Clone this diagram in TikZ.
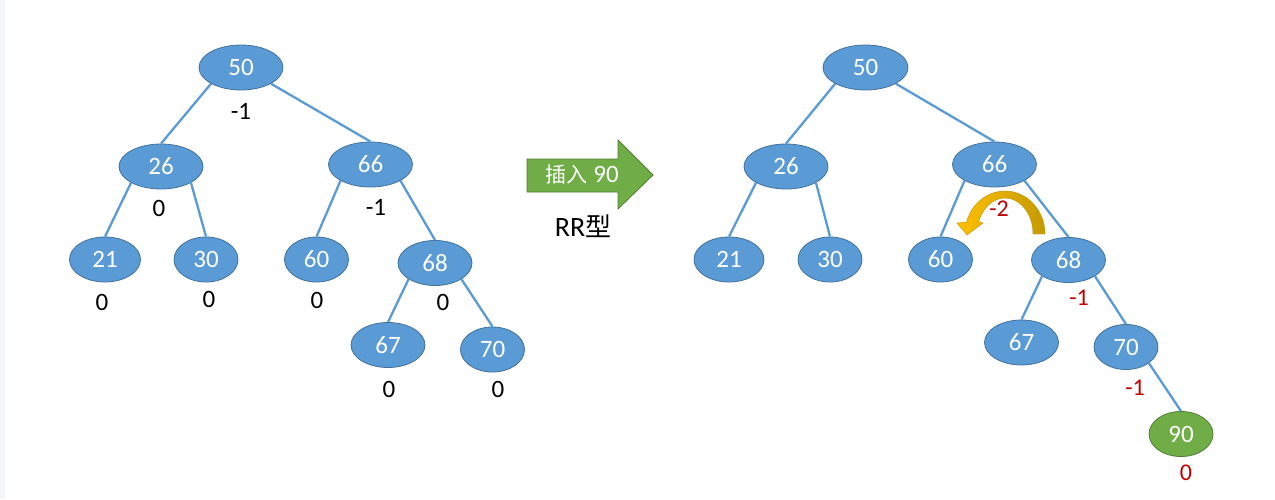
\documentclass[tikz,border=0pt]{standalone}
\usepackage{fontspec}
\setmainfont{Carlito}
\newfontfamily\cjk{Noto Sans CJK SC}
\usetikzlibrary{shapes.geometric}
\definecolor{nblue}{HTML}{5B9BD5}
\definecolor{nborder}{HTML}{41719C}
\definecolor{ngreen}{HTML}{70AD47}
\definecolor{gborder}{HTML}{507E32}
\definecolor{bred}{HTML}{C00000}
\definecolor{ayel}{HTML}{FFC000}
\definecolor{adark}{HTML}{C49A00}
\definecolor{aline}{HTML}{BF9000}
\definecolor{strip}{HTML}{F3F5F9}
\tikzset{
  nd/.style={ellipse, fill=nblue, draw=nborder, line width=0.8pt, text=white,
    font=\fontsize{25}{25}\selectfont, inner sep=0pt, minimum height=45pt},
  wA/.style={minimum width=84pt},
  wB/.style={minimum width=74pt},
  wC/.style={minimum width=64pt},
  gn/.style={nd, fill=ngreen, draw=gborder},
  bal/.style={font=\fontsize{25}{25}\selectfont, text=black, inner sep=0pt},
  rbal/.style={font=\fontsize{24}{24}\selectfont, text=bred, inner sep=0pt},
  edge/.style={draw=nblue, line width=2.3pt},
}
\begin{document}
\begin{tikzpicture}[x=1pt, y=-1pt]
\useasboundingbox (0,0) rectangle (1275,499);
\fill[white] (0,0) rectangle (1275,499);
\fill[strip] (0,0) rectangle (5,499);

% ---------- left tree ----------
\node[nd,wA] (L50) at (241,67.5) {50};
\node[nd,wA] (L26) at (161,166.5) {26};
\node[nd,wA] (L66) at (370.5,164.5) {66};
\node[nd,minimum width=71pt] (L21) at (105,259.5) {21};
\node[nd,wC] (L30) at (206,259.5) {30};
\node[nd,wC] (L60) at (316.5,259.5) {60};
\node[nd,wB] (L68) at (435,263) {68};
\node[nd,wB] (L67) at (388,345) {67};
\node[nd,wC] (L70) at (492.5,349.5) {70};

\draw[edge] (L50.south west) -- (L26.north);
\draw[edge] (L50.south east) -- (L66.north);
\draw[edge] (L26.south west) -- (L21.north);
\draw[edge] (L26.south east) -- (L30.north);
\draw[edge] (L66.south west) -- (L60.north);
\draw[edge] (L66.south east) -- (L68.north);
\draw[edge] (L68.south west) -- (L67.north);
\draw[edge] (L68.south east) -- (L70.north);

\node[bal] (bL50) at (241,111) {-1};
\node[bal] (bL26) at (159,208) {0};
\node[bal] (bL66) at (376,207) {-1};
\node[bal] (bL21) at (102,302) {0};
\node[bal] (bL30) at (209,299) {0};
\node[bal] (bL60) at (317,300) {0};
\node[bal] (bL68) at (443,302) {0};
\node[bal] (bL67) at (389,389) {0};
\node[bal] (bL70) at (498,389) {0};

% ---------- middle arrow ----------
\draw[fill=ngreen, draw=gborder, line width=0.8pt]
  (527,159) -- (618,159) -- (618,140) -- (653,175) -- (618,209) -- (618,192) -- (527,192) -- cycle;
\node[text=white, inner sep=0pt] (ins) at (582,175)
  {{\cjk\fontsize{21}{21}\selectfont 插入}\hspace{6pt}{\fontsize{25}{25}\selectfont 90}};
\node[inner sep=0pt] (rr) at (583,226)
  {{\fontsize{28}{28}\selectfont RR}{\cjk\fontsize{26}{26}\selectfont 型}};

% ---------- right tree ----------
\node[nd,minimum width=85pt] (R50) at (865.5,67.5) {50};
\node[nd,wA] (R26) at (786,166.5) {26};
\node[nd,wA] (R66) at (994.5,164.5) {66};
\node[nd,minimum width=70pt] (R21) at (729,259.5) {21};
\node[nd,wC] (R30) at (830,259.5) {30};
\node[nd,wC] (R60) at (940.5,259.5) {60};
\node[nd,wB] (R68) at (1068.5,260) {68};
\node[nd,wB] (R67) at (1021.5,342.5) {67};
\node[nd,wC] (R70) at (1126,347) {70};
\node[gn,wC] (R90) at (1181,434) {90};

\draw[edge] (R50.south west) -- (R26.north);
\draw[edge] (R50.south east) -- (R66.north);
\draw[edge] (R26.south west) -- (R21.north);
\draw[edge] (R26.south east) -- (R30.north);
\draw[edge] (R66.south west) -- (R60.north);
\draw[edge] (R66.south east) -- (R68.north);
\draw[edge] (R68.south west) -- (R67.north);
\draw[edge] (R68.south east) -- (R70.north);
\draw[edge] (R70.south east) -- (R90.north);

% curved rotation arrow
\shade[left color=ayel, middle color=ayel, right color=adark, draw=aline, line width=0.4pt]
  (1045,234) arc[start angle=0, end angle=-164, x radius=40, y radius=43]
  -- (957,223) -- (967,235) -- (983,223) -- (978.7,221.7)
  arc[start angle=-160, end angle=0, x radius=28, y radius=36] -- cycle;

\node[rbal] (bR66) at (999,209) {-2};
\node[rbal] (bR68) at (1079,298) {-1};
\node[rbal] (bR70) at (1135,388) {-1};
\node[rbal] (bR90) at (1186,473) {0};
\end{tikzpicture}
\end{document}
